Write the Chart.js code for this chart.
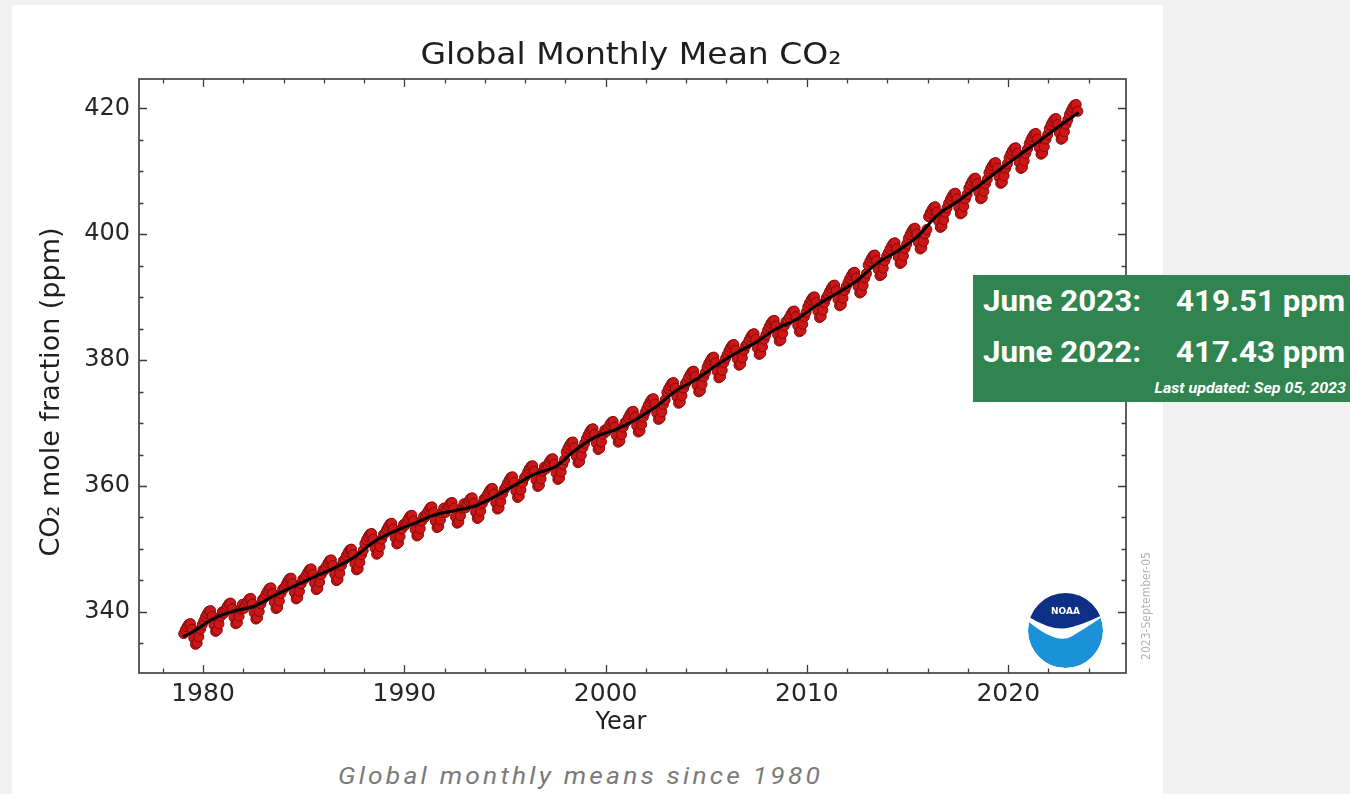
<!DOCTYPE html>
<html>
<head>
<meta charset="utf-8">
<script src="https://cdn.jsdelivr.net/npm/chart.js@4.4.1/dist/chart.umd.min.js"></script>
<style>
  html, body { margin: 0; padding: 0; }
  body { width: 1350px; height: 794px; overflow: hidden; position: relative; background: #f1f1f1; }
  #card { position: absolute; left: 12px; top: 5px; width: 1151px; height: 789px; background: #fff; }
  #plot { position: absolute; left: 12px; top: 5px; width: 1151px; height: 745px; }
  #caption { position: absolute; left: 338px; top: 764px; white-space: nowrap; font-family: Roboto, sans-serif;
             font-style: italic; font-size: 24px; line-height: 24px; letter-spacing: 2.9px; color: #7a7a7a;
             transform: scaleX(1.1); transform-origin: left center; }
  #readings { position: absolute; left: 973px; top: 275px; width: 377px; height: 127px; background: #2f8450; }
  .reading { position: absolute; white-space: nowrap; font-family: Roboto, sans-serif; font-weight: 700;
             font-size: 29px; line-height: 29px; color: #fff; transform: scaleX(1.08); transform-origin: left center; }
  #updated { position: absolute; right: 4px; top: 106px; white-space: nowrap; font-family: Roboto, sans-serif;
             font-weight: 700; font-style: italic; font-size: 15px; line-height: 15px; color: #fff;
             transform: scaleX(1.07); transform-origin: right center; }
  #logo { position: absolute; left: 1028px; top: 593px; width: 75px; height: 75px; }
</style>
</head>
<body>
<div id="card"></div>
<div id="plot"><canvas id="c" width="1151" height="745"></canvas></div>
<svg id="logo" viewBox="-50 -50 100 100">
  <defs><clipPath id="disc"><circle r="50"/></clipPath></defs>
  <g clip-path="url(#disc)">
    <circle r="50" fill="#1b92d8"/>
    <path d="M -52 -14 Q -12 20 8 8 Q 28 -4 52 -20 L 52 -52 L -52 -52 Z" fill="#ffffff"/>
    <path d="M -52 -20 Q -20 0 0 -3 Q 20 -6 52 -22 L 52 -52 L -52 -52 Z" fill="#0d2f86"/>
  </g>
  <text x="0" y="-22" text-anchor="middle" font-family="DejaVu Sans" font-weight="bold" font-size="12" fill="#ffffff">NOAA</text>
</svg>
<div id="caption">Global monthly means since 1980</div>
<div id="readings">
  <div class="reading" id="r1a" style="left:10px;top:12px;"></div>
  <div class="reading" id="r1b" style="left:203px;top:12px;"></div>
  <div class="reading" id="r2a" style="left:10px;top:63px;"></div>
  <div class="reading" id="r2b" style="left:203px;top:63px;"></div>
  <div id="updated">Last updated: Sep 05, 2023</div>
</div>
<script>
// Global monthly mean CO2 (ppm), January 1979 through June 2023, one row per year
const startYear = 1979;
const monthlyMeans = [
  336.55, 337.15, 337.65, 338.05, 338.15, 337.25, 335.85, 334.85, 335.05, 336.05, 337.25, 337.95,
  338.61, 339.21, 339.71, 340.11, 340.21, 339.31, 337.91, 336.91, 337.11, 338.11, 339.31, 340.01,
  339.81, 340.41, 340.91, 341.31, 341.41, 340.51, 339.11, 338.11, 338.31, 339.31, 340.51, 341.21,
  340.56, 341.16, 341.66, 342.06, 342.16, 341.26, 339.86, 338.86, 339.06, 340.06, 341.26, 341.96,
  342.23, 342.83, 343.33, 343.73, 343.83, 342.93, 341.53, 340.53, 340.73, 341.73, 342.93, 343.63,
  343.77, 344.37, 344.87, 345.27, 345.37, 344.47, 343.07, 342.07, 342.27, 343.27, 344.47, 345.17,
  345.24, 345.84, 346.34, 346.74, 346.84, 345.94, 344.54, 343.54, 343.74, 344.74, 345.94, 346.64,
  346.67, 347.27, 347.77, 348.17, 348.27, 347.37, 345.97, 344.97, 345.17, 346.17, 347.37, 348.07,
  348.38, 348.98, 349.48, 349.88, 349.98, 349.08, 347.68, 346.68, 346.88, 347.88, 349.08, 349.78,
  350.86, 351.46, 351.96, 352.36, 352.46, 351.56, 350.16, 349.16, 349.36, 350.36, 351.56, 352.26,
  352.49, 353.09, 353.59, 353.99, 354.09, 353.19, 351.79, 350.79, 350.99, 351.99, 353.19, 353.89,
  353.76, 354.36, 354.86, 355.26, 355.36, 354.46, 353.06, 352.06, 352.26, 353.26, 354.46, 355.16,
  355.09, 355.69, 356.19, 356.59, 356.69, 355.79, 354.39, 353.39, 353.59, 354.59, 355.79, 356.49,
  355.79, 356.39, 356.89, 357.29, 357.39, 356.49, 355.09, 354.09, 354.29, 355.29, 356.49, 357.19,
  356.53, 357.13, 357.63, 358.03, 358.13, 357.23, 355.83, 354.83, 355.03, 356.03, 357.23, 357.93,
  358.03, 358.63, 359.13, 359.53, 359.63, 358.73, 357.33, 356.33, 356.53, 357.53, 358.73, 359.43,
  359.87, 360.47, 360.97, 361.37, 361.47, 360.57, 359.17, 358.17, 358.37, 359.37, 360.57, 361.27,
  361.63, 362.23, 362.73, 363.13, 363.23, 362.33, 360.93, 359.93, 360.13, 361.13, 362.33, 363.03,
  362.75, 363.35, 363.85, 364.25, 364.35, 363.45, 362.05, 361.05, 361.25, 362.25, 363.45, 364.15,
  365.40, 366.00, 366.50, 366.90, 367.00, 366.10, 364.70, 363.70, 363.90, 364.90, 366.10, 366.80,
  367.50, 368.10, 368.60, 369.00, 369.10, 368.20, 366.80, 365.80, 366.00, 367.00, 368.20, 368.90,
  368.66, 369.26, 369.76, 370.16, 370.26, 369.36, 367.96, 366.96, 367.16, 368.16, 369.36, 370.06,
  370.27, 370.87, 371.37, 371.77, 371.87, 370.97, 369.57, 368.57, 368.77, 369.77, 370.97, 371.67,
  372.28, 372.88, 373.38, 373.78, 373.88, 372.98, 371.58, 370.58, 370.78, 371.78, 372.98, 373.68,
  374.84, 375.44, 375.94, 376.34, 376.44, 375.54, 374.14, 373.14, 373.34, 374.34, 375.54, 376.24,
  376.65, 377.25, 377.75, 378.15, 378.25, 377.35, 375.95, 374.95, 375.15, 376.15, 377.35, 378.05,
  378.88, 379.48, 379.98, 380.38, 380.48, 379.58, 378.18, 377.18, 377.38, 378.38, 379.58, 380.28,
  380.88, 381.48, 381.98, 382.38, 382.48, 381.58, 380.18, 379.18, 379.38, 380.38, 381.58, 382.28,
  382.60, 383.20, 383.70, 384.10, 384.20, 383.30, 381.90, 380.90, 381.10, 382.10, 383.30, 384.00,
  384.72, 385.32, 385.82, 386.22, 386.32, 385.42, 384.02, 383.02, 383.22, 384.22, 385.42, 386.12,
  386.20, 386.80, 387.30, 387.70, 387.80, 386.90, 385.50, 384.50, 384.70, 385.70, 386.90, 387.60,
  388.45, 389.05, 389.55, 389.95, 390.05, 389.15, 387.75, 386.75, 386.95, 387.95, 389.15, 389.85,
  390.32, 390.92, 391.42, 391.82, 391.92, 391.02, 389.62, 388.62, 388.82, 389.82, 391.02, 391.72,
  392.35, 392.95, 393.45, 393.85, 393.95, 393.05, 391.65, 390.65, 390.85, 391.85, 393.05, 393.75,
  395.10, 395.70, 396.20, 396.60, 396.70, 395.80, 394.40, 393.40, 393.60, 394.60, 395.80, 396.50,
  397.04, 397.64, 398.14, 398.54, 398.64, 397.74, 396.34, 395.34, 395.54, 396.54, 397.74, 398.44,
  399.35, 399.95, 400.45, 400.85, 400.95, 400.05, 398.65, 397.65, 397.85, 398.85, 400.05, 400.75,
  402.77, 403.37, 403.87, 404.27, 404.37, 403.47, 402.07, 401.07, 401.27, 402.27, 403.47, 404.17,
  404.92, 405.52, 406.02, 406.42, 406.52, 405.62, 404.22, 403.22, 403.42, 404.42, 405.62, 406.32,
  407.31, 407.91, 408.41, 408.81, 408.91, 408.01, 406.61, 405.61, 405.81, 406.81, 408.01, 408.71,
  409.77, 410.37, 410.87, 411.27, 411.37, 410.47, 409.07, 408.07, 408.27, 409.27, 410.47, 411.17,
  412.14, 412.74, 413.24, 413.64, 413.74, 412.84, 411.44, 410.44, 410.64, 411.64, 412.84, 413.54,
  414.40, 415.00, 415.50, 415.90, 416.00, 415.10, 413.70, 412.70, 412.90, 413.90, 415.10, 415.80,
  416.77, 417.37, 417.87, 418.27, 418.37, 417.43, 416.07, 415.07, 415.27, 416.27, 417.47, 418.17,
  419.01, 419.61, 420.11, 420.51, 420.61, 419.51
];

// De-seasonalized trend (ppm), start of record then mid-year points
const trendDates = [
  1979.0, 1979.5, 1980.5, 1981.5, 1982.5, 1983.5, 1984.5, 1985.5, 1986.5, 1987.5, 1988.5,
  1989.5, 1990.5, 1991.5, 1992.5, 1993.5, 1994.5, 1995.5, 1996.5, 1997.5, 1998.5,
  1999.5, 2000.5, 2001.5, 2002.5, 2003.5, 2004.5, 2005.5, 2006.5, 2007.5, 2008.5,
  2009.5, 2010.5, 2011.5, 2012.5, 2013.5, 2014.5, 2015.5, 2016.5, 2017.5, 2018.5,
  2019.5, 2020.5, 2021.5, 2022.5, 2023.5
];
const trendValues = [
  336.05, 336.85, 338.91, 340.11, 340.86, 342.53, 344.07, 345.54, 346.97, 348.68, 351.16,
  352.79, 354.06, 355.39, 356.09, 356.83, 358.33, 360.17, 361.93, 363.05, 365.70,
  367.80, 368.96, 370.57, 372.58, 375.14, 376.95, 379.18, 381.18, 382.90, 385.02,
  386.50, 388.75, 390.62, 392.65, 395.40, 397.34, 399.65, 403.07, 405.22, 407.61,
  410.07, 412.44, 414.70, 417.07, 419.31
];

const xTickYears = [1980, 1990, 2000, 2010, 2020];
const yTickValues = [340, 360, 380, 400, 420];
const chartTitle = 'Global Monthly Mean CO\u2082';
const yAxisTitle = 'CO\u2082 mole fraction (ppm)';
const xAxisTitle = 'Year';
const stampText = '2023-September-05';

// Latest readings shown in the green box come straight from the series
const juneIndex = (year) => (year - startYear) * 12 + 5;
document.getElementById('r1a').textContent = 'June 2023:';
document.getElementById('r1b').textContent = monthlyMeans[juneIndex(2023)].toFixed(2) + ' ppm';
document.getElementById('r2a').textContent = 'June 2022:';
document.getElementById('r2b').textContent = monthlyMeans[juneIndex(2022)].toFixed(2) + ' ppm';

const monthlyPoints = monthlyMeans.map((v, i) => ({ x: startYear + (i + 0.5) / 12, y: v }));
const trendPoints = trendDates.map((x, i) => ({ x: x, y: trendValues[i] }));

// Box frame with inward ticks on all four sides, plus the text around the axes
const frameAndLabels = {
  id: 'frameAndLabels',
  afterDraw(chart) {
    const ctx = chart.ctx;
    const { left, right, top, bottom } = chart.chartArea;
    const xs = chart.scales.x, ys = chart.scales.y;
    ctx.save();
    ctx.strokeStyle = '#3a3a3a';
    ctx.lineWidth = 1.3;
    ctx.beginPath();
    for (let yr = 1978; yr <= 2024; yr += 2) {
      const px = Math.round(xs.getPixelForValue(yr)) + 0.5;
      const len = yr % 10 === 0 ? 8 : 4.5;
      ctx.moveTo(px, bottom); ctx.lineTo(px, bottom - len);
      ctx.moveTo(px, top); ctx.lineTo(px, top + len);
    }
    for (let v = 335; v <= 420; v += 5) {
      const py = Math.round(ys.getPixelForValue(v)) + 0.5;
      const len = v % 20 === 0 ? 8 : 4.5;
      ctx.moveTo(left, py); ctx.lineTo(left + len, py);
      ctx.moveTo(right, py); ctx.lineTo(right - len, py);
    }
    ctx.stroke();
    ctx.lineWidth = 1.7;
    ctx.strokeStyle = '#444';
    ctx.strokeRect(left, top, right - left, bottom - top);

    // chart title, slightly widened
    ctx.fillStyle = '#1e1e1e';
    ctx.font = '30px "DejaVu Sans"';
    ctx.textAlign = 'center';
    ctx.textBaseline = 'alphabetic';
    ctx.save();
    ctx.translate(619, 59);
    ctx.scale(1.1, 1);
    ctx.fillText(chartTitle, 0, 0);
    ctx.restore();

    // axis titles
    ctx.font = '24px "DejaVu Sans"';
    ctx.fillText(xAxisTitle, 609, 724);
    ctx.save();
    ctx.translate(47, 387);
    ctx.rotate(-Math.PI / 2);
    ctx.font = '27px "DejaVu Sans"';
    ctx.fillText(yAxisTitle, 0, 0);
    ctx.restore();

    // date stamp along the right edge
    ctx.save();
    ctx.translate(1138, 601);
    ctx.rotate(-Math.PI / 2);
    ctx.font = '12px "Liberation Sans Narrow", "DejaVu Sans Condensed", "DejaVu Sans"';
    ctx.fillStyle = '#b4b4b4';
    ctx.fillText(stampText, 0, 0);
    ctx.restore();
    ctx.restore();
  }
};

Chart.defaults.font.family = '"DejaVu Sans"';
Chart.defaults.color = '#262626';

new Chart(document.getElementById('c'), {
  type: 'scatter',
  data: {
    datasets: [
      {
        type: 'line',
        label: 'Trend',
        data: trendPoints,
        borderColor: '#000000',
        borderWidth: 3,
        pointRadius: 0,
        tension: 0.35,
        fill: false,
        order: 0
      },
      {
        label: 'Monthly mean',
        data: monthlyPoints,
        showLine: false,
        pointRadius: 5,
        pointBackgroundColor: '#cf1616',
        pointBorderColor: '#7d0b0b',
        pointBorderWidth: 1,
        order: 1
      }
    ]
  },
  options: {
    responsive: false,
    animation: false,
    events: [],
    layout: { padding: { top: 74, right: 37, left: 0, bottom: 0 } },
    plugins: {
      legend: { display: false },
      title: { display: false },
      tooltip: { enabled: false }
    },
    scales: {
      x: {
        type: 'linear',
        min: 1976.82,
        max: 2025.85,
        grid: { display: false, drawTicks: false },
        border: { display: false },
        ticks: { font: { size: 25 }, padding: 6, maxRotation: 0, callback: (v) => String(v) },
        afterBuildTicks: (s) => { s.ticks = xTickYears.map((v) => ({ value: v })); },
        afterFit: (s) => { s.height = 77; }
      },
      y: {
        type: 'linear',
        min: 330.3,
        max: 424.65,
        grid: { display: false, drawTicks: false },
        border: { display: false },
        ticks: { font: { size: 24 }, padding: 9, callback: (v) => String(v) },
        afterBuildTicks: (s) => { s.ticks = yTickValues.map((v) => ({ value: v })); },
        afterFit: (s) => { s.width = 127; }
      }
    }
  },
  plugins: [frameAndLabels]
});
</script>
</body>
</html>
